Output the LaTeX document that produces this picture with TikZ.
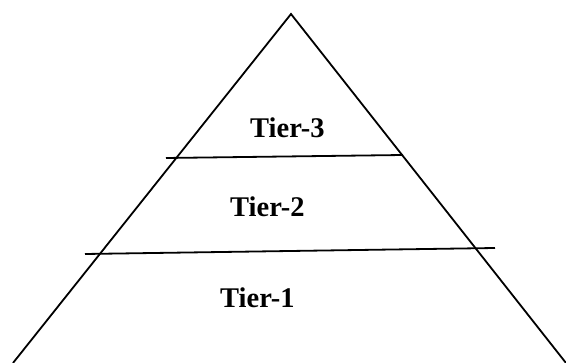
\documentclass[tikz,border=0pt]{standalone}
\usepackage{fontspec}
\setmainfont{Liberation Serif}
\begin{document}
\begin{tikzpicture}[x=1pt,y=-1pt,
  edge/.style={line width=1.8pt,black},
  tier/.style={font=\fontsize{28.5}{30}\selectfont\bfseries,inner sep=0pt,anchor=base west}]
\useasboundingbox (0,0) rectangle (566,363);
\coordinate (apex) at (291,14);
\coordinate (bl) at (13,363);
\coordinate (br) at (566,363);
\coordinate (t3l) at (166,158);
\coordinate (t3r) at (403,155);
\coordinate (t2l) at (85,254);
\coordinate (t2r) at (495,248);
\draw[edge] (bl) -- (apex) -- (br);
\draw[edge] (t3l) -- (t3r);
\draw[edge] (t2l) -- (t2r);
\node[tier] (tier3) at (250,138) {Tier-3};
\node[tier] (tier2) at (230,217) {Tier-2};
\node[tier] (tier1) at (220,308) {Tier-1};
\end{tikzpicture}
\end{document}
